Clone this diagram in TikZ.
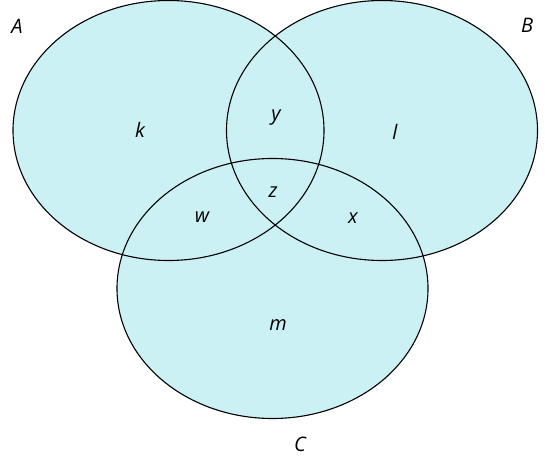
\documentclass[tikz,border=0pt]{standalone}
\usepackage{fontspec}
\setmainfont{Open Sans}
\usepackage{tikz}
\usetikzlibrary{positioning,shapes.geometric}
\definecolor{vennfill}{RGB}{204,241,244}

\begin{document}
\begin{tikzpicture}[x=1pt,y=-1pt,
  setshape/.style={ellipse,minimum width=311pt,minimum height=260pt,inner sep=0pt},
  lbl/.style={inner sep=0pt,font=\itshape\fontsize{20}{20}\selectfont}]
\useasboundingbox (0,0) rectangle (545,457);
% fills first, outlines on top
\foreach \p in {(168.5,130.5),(382,130.5),(272.5,288.5)}
  \node[setshape,fill=vennfill] at \p {};
\node[setshape,draw,line width=1.1pt] (setA) at (168.5,130.5) {};
\node[setshape,draw,line width=1.1pt] (setB) at (382,130.5) {};
\node[setshape,draw,line width=1.1pt] (setC) at (272.5,288.5) {};
\node[lbl] (nameA) at (17,26) {A};
\node[lbl] (nameB) at (527,25) {B};
\node[lbl] (nameC) at (300,444) {C};
\node[lbl] (regk) at (140,130) {k};
\node[lbl] (regy) at (276,118) {y};
\node[lbl] (regl) at (395,132) {l};
\node[lbl] (regz) at (273,192) {z};
\node[lbl] (regw) at (202,217) {w};
\node[lbl] (regx) at (353,218) {x};
\node[lbl] (regm) at (278,325) {m};
\end{tikzpicture}
\end{document}
